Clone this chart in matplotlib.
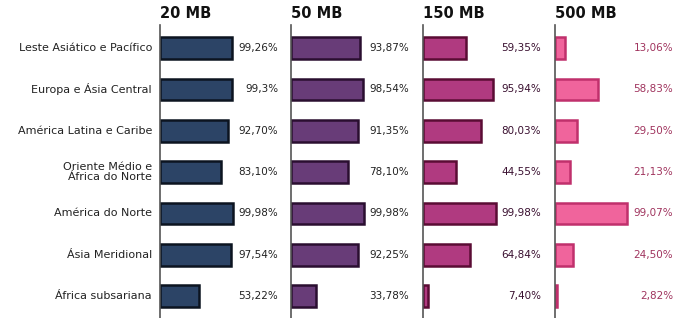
import matplotlib.pyplot as plt

regions = ['Leste Asiático e Pacífico', 'Europa e Ásia Central', 'América Latina e Caribe',
           'Oriente Médio e\nÁfrica do Norte', 'América do Norte', 'Ásia Meridional',
           'África subsariana']
titles = ['20 MB', '50 MB', '150 MB', '500 MB']

mb20 = [99.26, 99.30, 92.70, 83.10, 99.98, 97.54, 53.22]
mb50 = [93.87, 98.54, 91.35, 78.10, 99.98, 92.25, 33.78]
mb150 = [59.35, 95.94, 80.03, 44.55, 99.98, 64.84, 7.40]
mb500 = [13.06, 58.83, 29.50, 21.13, 99.07, 24.50, 2.82]

lab20 = ['99,26%', '99,3%', '92,70%', '83,10%', '99,98%', '97,54%', '53,22%']
lab50 = ['93,87%', '98,54%', '91,35%', '78,10%', '99,98%', '92,25%', '33,78%']
lab150 = ['59,35%', '95,94%', '80,03%', '44,55%', '99,98%', '64,84%', '7,40%']
lab500 = ['13,06%', '58,83%', '29,50%', '21,13%', '99,07%', '24,50%', '2,82%']

series = [mb20, mb50, mb150, mb500]
labels = [lab20, lab50, lab150, lab500]
fills = ['#2c4466', '#683c78', '#b03a80', '#f0649c']
edges = ['#0c1420', '#2a0e30', '#5a0c34', '#c0306c']
txtcol = ['#222222', '#222222', '#3a1030', '#a0345e']

W, H = 689, 318
fig = plt.figure(figsize=(W / 100, H / 100), dpi=100)

left_px = [160, 291, 423, 555]
top_px = 25
panel_w = 131
unit = 73 / 100  # pixels per percent

for k in range(4):
    ax = fig.add_axes([left_px[k] / W, 0, panel_w / W, 1 - top_px / H])
    ax.set_xlim(0, panel_w / unit)
    ax.set_ylim(6.53, -0.56)
    ax.barh(range(7), series[k], height=0.52, color=fills[k],
            edgecolor=edges[k], linewidth=1.8)
    for i, t in enumerate(labels[k]):
        ax.text(118 / panel_w, i, t, transform=ax.get_yaxis_transform(),
                ha='right', va='center', fontsize=7.5, color=txtcol[k])
    for s in ['top', 'right', 'bottom']:
        ax.spines[s].set_visible(False)
    ax.spines['left'].set_color('#555555')
    ax.spines['left'].set_linewidth(1.2)
    ax.set_xticks([])
    ax.set_yticks([])
    fig.text(left_px[k] / W, 1 - 14 / H, titles[k], ha='left', va='center',
             fontsize=10.5, fontweight='bold', color='#111111')
    if k == 0:
        for i, r in enumerate(regions):
            ax.text(-8 / panel_w, i, r, transform=ax.get_yaxis_transform(),
                    ha='right', va='center', fontsize=8, color='#222222',
                    linespacing=1.0)

fig.savefig('out.png', dpi=100)
